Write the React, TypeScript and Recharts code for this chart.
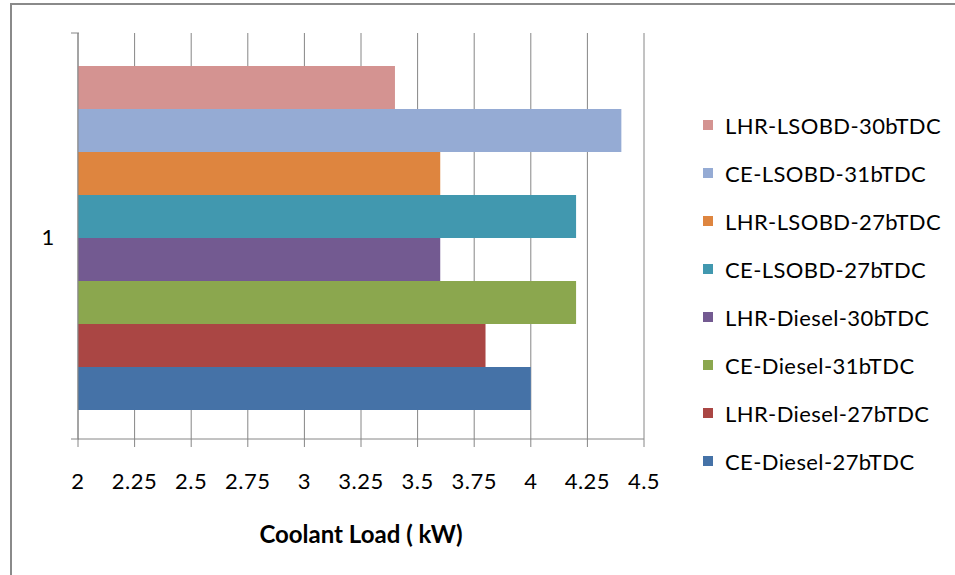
import React from 'react';
import { BarChart, Bar, XAxis, YAxis, CartesianGrid, Legend } from 'recharts';

const categories = ['1'];
const seriesNames = [
  'LHR-LSOBD-30bTDC',
  'CE-LSOBD-31bTDC',
  'LHR-LSOBD-27bTDC',
  'CE-LSOBD-27bTDC',
  'LHR-Diesel-30bTDC',
  'CE-Diesel-31bTDC',
  'LHR-Diesel-27bTDC',
  'CE-Diesel-27bTDC',
];
const seriesValues = [3.4, 4.4, 3.6, 4.2, 3.6, 4.2, 3.8, 4.0];
const seriesColors = ['#D49391', '#95ABD4', '#DE853F', '#4198AF', '#735A91', '#8BA74E', '#AA4644', '#4572A7'];
const xTicks = [2, 2.25, 2.5, 2.75, 3, 3.25, 3.5, 3.75, 4, 4.25, 4.5];
const xTitle = 'Coolant Load ( kW)';

const data = categories.map((c) => {
  const row: any = { cat: c };
  seriesNames.forEach((n, i) => (row[n] = seriesValues[i]));
  return row;
});

const FONT = 'Lato, "Open Sans", sans-serif';
const GRID = '#868686';

const YTick = (props: any) => {
  const { x, y, payload } = props;
  const off = payload && payload.offset ? payload.offset : 203;
  return (
    <g>
      <line x1={x + 1} x2={x + 9} y1={y - off} y2={y - off} stroke={GRID} strokeWidth={1} />
      <line x1={x + 1} x2={x + 9} y1={y + off} y2={y + off} stroke={GRID} strokeWidth={1} />
      <text x={x - 22} y={y} textAnchor="middle" dominantBaseline="central" fontFamily={FONT} fontSize={22} fill="#000">
        {payload.value}
      </text>
    </g>
  );
};

const LegendContent = () => (
  <div style={{ fontFamily: FONT, fontSize: 22, letterSpacing: 0.4, color: '#000', textAlign: 'left' }}>
    {seriesNames.map((n, i) => (
      <div key={n} style={{ height: 48, display: 'flex', alignItems: 'center', whiteSpace: 'nowrap' }}>
        <span style={{ display: 'inline-block', width: 10, height: 10, background: seriesColors[i], marginRight: 12 }} />
        <span>{n}</span>
      </div>
    ))}
  </div>
);

export default function App() {
  return (
    <div style={{ position: 'absolute', left: 0, top: 0, width: 955, height: 575, background: '#fff', overflow: 'hidden' }}>
      <div
        style={{
          position: 'absolute',
          left: 10,
          top: 3,
          width: 960,
          height: 580,
          borderLeft: '2px solid #8a8a8a',
          borderTop: '2px solid #8a8a8a',
        }}
      />
      <div style={{ position: 'absolute', left: 0, top: 0 }}>
        <BarChart
          width={955}
          height={575}
          data={data}
          layout="vertical"
          margin={{ top: 33, right: 311, bottom: 36, left: 0 }}
          barCategoryGap={33}
          barGap={0}
        >
          <CartesianGrid horizontal={false} vertical={true} stroke={GRID} strokeWidth={1} />
          <XAxis
            type="number"
            domain={[2, 4.5]}
            ticks={xTicks}
            interval={0}
            allowDataOverflow
            height={100}
            stroke={GRID}
            tickSize={8}
            tickMargin={26}
            tick={{ fontFamily: FONT, fontSize: 22, letterSpacing: 0.5, fill: '#000' }}
            label={{
              value: xTitle,
              position: 'insideBottom',
              offset: -4,
              style: { fontFamily: FONT, fontSize: 24, fontWeight: 700, fill: '#000' },
            }}
          />
          <YAxis
            type="category"
            dataKey="cat"
            width={78}
            stroke={GRID}
            tickLine={false}
            tick={<YTick />}
          />
          {seriesNames.map((n, i) => (
            <Bar key={n} dataKey={n} fill={seriesColors[i]} isAnimationActive={false} />
          ))}
          <Legend
            layout="horizontal"
            align="center"
            verticalAlign="middle"
            content={<LegendContent />}
            wrapperStyle={{ left: 703, top: 101, width: 260 }}
          />
        </BarChart>
      </div>
    </div>
  );
}
